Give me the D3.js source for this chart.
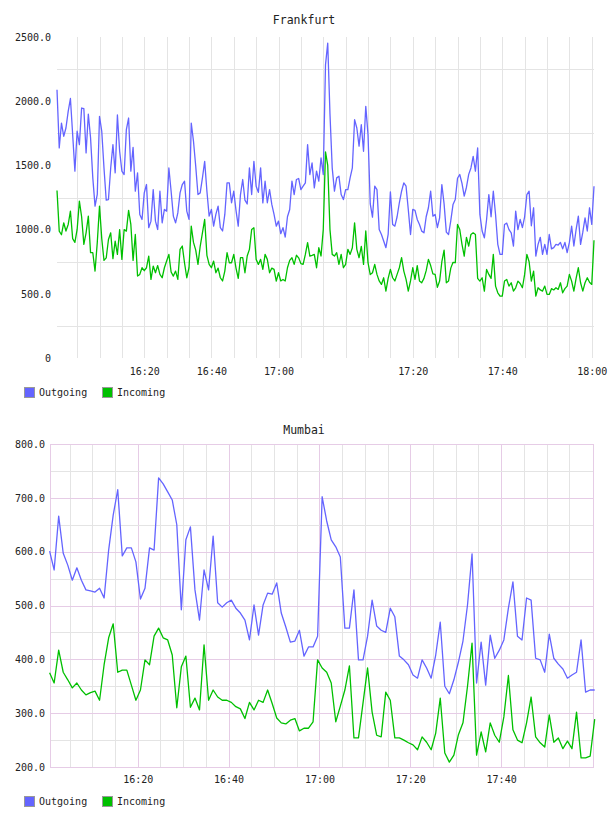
<!DOCTYPE html>
<html><head><meta charset="utf-8">
<script src="https://cdn.jsdelivr.net/npm/d3@7"></script>
<style>body{margin:0;background:#fff}svg{display:block}text{font-family:"DejaVu Sans Mono",monospace;fill:#222}</style>
</head><body>
<script>
// ---------- Frankfurt (sample-indexed x axis) ----------
const ffOutgoing = [
2089,1636,1830,1727,1791,1921,2021,1740,1455,1766,
1662,1947,1942,1597,1900,1714,1403,1183,1274,1882,
1766,1480,1229,1234,1480,1662,1442,1893,1610,1455,
1429,1779,1869,1455,1641,1299,1442,1118,1079,1286,
1351,1015,1066,1312,1066,1001,1299,1053,1157,1144,
1480,1299,1105,1053,1130,1286,1351,1377,1144,1079,
1830,1688,1493,1273,1286,1403,1532,1299,1105,1157,
1027,1118,1183,1015,989,1118,1364,1364,1209,1299,
1150,1027,1273,1390,1230,1199,1481,1273,1532,1338,
1290,1481,1208,1377,1209,1312,1196,1118,1027,1066,
968,1015,942,1100,1157,1377,1273,1390,1398,1312,
1338,1364,1662,1429,1519,1325,1455,1377,1558,1429,
2283,2452,1900,1481,1300,1403,1416,1273,1234,1312,
1312,1403,1481,1856,1791,1650,1817,1610,1960,1740,
1200,1097,1338,1312,1000,962,911,859,962,1294,
1040,1027,1100,1209,1299,1364,1338,1157,962,1157,
1150,1079,1040,988,975,1100,1170,1299,1105,1118,
1015,1092,1351,1200,980,962,1070,1196,1234,1400,
1429,1360,1260,1330,1430,1480,1571,1455,1636,1118,
989,936,1079,1273,1100,1299,1118,885,807,807,
1040,1050,1000,975,872,1144,1000,1079,1015,1100,
1273,1299,1030,1170,794,885,940,807,885,807,
962,850,860,885,880,900,850,900,820,900,
1027,872,1000,1105,885,980,1092,989,1170,1040,1338];
const ffIncoming = [
1304,988,960,1053,989,1040,1144,930,900,1001,
1222,1100,885,975,1105,820,820,677,900,1183,
930,760,780,923,975,774,910,807,1000,768,
1000,988,1150,1040,760,962,638,651,703,680,
703,794,612,716,664,720,651,625,703,755,
807,670,638,677,612,846,872,740,625,703,
1027,900,840,729,870,975,1079,800,729,703,
755,664,700,625,600,677,820,742,742,807,
700,620,781,781,664,794,846,1001,1014,768,
729,768,690,807,768,664,700,690,599,664,
600,612,600,703,760,781,729,800,780,735,
729,807,898,794,800,807,703,859,794,1000,
1605,1500,1000,807,794,820,729,807,703,729,
846,807,859,1053,846,781,870,729,989,742,
650,664,729,651,600,573,625,521,620,690,
625,600,651,703,781,677,612,521,600,703,
612,720,600,586,620,680,768,720,655,651,
550,599,750,840,586,600,700,745,742,1040,
1001,885,794,940,872,962,975,962,620,599,
625,521,690,651,620,807,560,508,482,482,
599,612,560,586,521,547,599,580,547,651,
807,750,599,677,482,547,530,521,560,495,
495,540,530,547,534,586,508,540,560,651,
599,521,620,703,586,521,586,625,590,573,917];
const ffTickSamples = [39,69,99,159,199,239];
const ffTickLabels = ["16:20","16:40","17:00","17:20","17:40","18:00"];
const ffGridEvery = 10, ffGridFirst = 9;
const ffYTicks = [0,500,1000,1500,2000,2500];
const ffYMinor = [250,750,1250,1750,2250];

// ---------- Mumbai (one sample per minute from 16:00:36) ----------
const mmOutgoing = [
601,566,666,597,575,547,570,547,529,527,
525,532,514,603,668,715,592,607,607,581,
512,532,607,603,737,726,711,696,650,492,
622,646,529,473,566,529,629,505,497,505,
510,495,486,473,436,501,445,501,523,521,
542,486,460,432,434,454,406,423,423,443,
702,657,622,609,590,458,458,529,399,399,
443,510,462,454,450,495,479,406,399,390,
371,365,399,384,365,408,469,350,336,362,
395,434,501,596,356,432,352,445,402,417,
436,495,544,443,436,514,510,402,399,376,
447,402,391,382,365,371,376,436,339,343,343];
const mmIncoming = [
375,356,417,376,362,347,356,343,334,338,
341,324,390,440,466,376,380,380,352,324,
343,399,390,443,458,440,436,408,310,386,
406,311,328,306,427,324,343,330,324,324,
320,312,308,290,320,306,324,320,343,318,
291,282,280,287,290,267,272,272,284,399,
384,376,356,284,313,343,388,254,254,319,
384,302,259,256,339,324,254,254,250,245,
241,232,256,246,232,263,328,226,209,222,
260,282,350,430,222,265,228,282,259,246,
293,370,269,250,245,282,330,256,245,237,
297,246,254,234,248,234,302,217,217,220,289];
const mmStart = "16:00:36";
const mmTickLabels = ["16:20","16:40","17:00","17:20","17:40"];
const mmYTicks = [200,300,400,500,600,700,800];
const mmYMinor = [250,350,450,550,650,750];

const seriesNames = ["Outgoing","Incoming"];
const seriesColors = ["#6464ff","#00c000"];

// ---------------------------------------------------
const svg = d3.select("body").append("svg").attr("width",608).attr("height",816);
const gridGrey = "#e4e4e4", gridPink = "#e6cce6";

function legend(y){
  const g = svg.append("g");
  const xs=[24,102];
  seriesNames.forEach((n,i)=>{
    g.append("rect").attr("x",xs[i]+0.5).attr("y",y+0.5).attr("width",10).attr("height",10)
      .attr("fill",seriesColors[i]).attr("stroke","#999");
    g.append("text").attr("x",xs[i]+15).attr("y",y+5.5).attr("dy","0.35em")
      .attr("font-size","10px").text(n);
  });
}

// ===== Frankfurt =====
{
  const x = d3.scaleLinear().domain([0,240]).range([57,594]);
  const y = d3.scaleLinear().domain([0,2500]).range([358,37]);
  const g = svg.append("g");
  const gridIdx = d3.range(ffGridFirst, ffOutgoing.length, ffGridEvery);
  g.selectAll(".vg").data(gridIdx).join("line")
    .attr("x1",d=>Math.round(x(d))+0.5).attr("x2",d=>Math.round(x(d))+0.5)
    .attr("y1",y(2500)).attr("y2",y(0)).attr("stroke",gridGrey);
  g.selectAll(".hg").data(ffYMinor).join("line")
    .attr("x1",57).attr("x2",594)
    .attr("y1",d=>Math.round(y(d))+0.5).attr("y2",d=>Math.round(y(d))+0.5).attr("stroke",gridGrey);
  const yAxis = d3.axisLeft(y).tickValues(ffYTicks).tickSize(0).tickPadding(0)
    .tickFormat(d=>d===0?"0":d.toFixed(1));
  const ya = g.append("g").attr("transform","translate(51,0)").call(yAxis);
  ya.select(".domain").remove();
  ya.selectAll("text").attr("font-size","10px").attr("font-family","DejaVu Sans Mono").attr("fill","#222");
  const xAxis = d3.axisBottom(x).tickValues(ffTickSamples).tickSize(0).tickPadding(0)
    .tickFormat((d,i)=>ffTickLabels[i]);
  const xa = g.append("g").attr("transform","translate(0,368)").call(xAxis);
  xa.select(".domain").remove();
  xa.selectAll("text").attr("font-size","10px").attr("font-family","DejaVu Sans Mono").attr("fill","#222");
  const line = d3.line().x((d,i)=>x(i)).y(d=>y(d));
  [ffOutgoing, ffIncoming].forEach((s,si)=>{
    g.append("path").datum(s).attr("d",line).attr("fill","none")
      .attr("stroke",seriesColors[si]).attr("stroke-width",1.3).attr("stroke-linejoin","round");
  });
  svg.append("text").attr("x",304).attr("y",20).attr("dy","0.35em").attr("text-anchor","middle")
    .attr("font-size","11.5px").text("Frankfurt");
  legend(387);
}

// ===== Mumbai =====
{
  const parse = d3.timeParse("%H:%M:%S");
  const t0 = parse(mmStart);
  const times = mmOutgoing.map((d,i)=>d3.timeMinute.offset(t0,i));
  const t1 = times[times.length-1];
  const x = d3.scaleTime().domain([t0,t1]).range([49.6,594.7]);
  const y = d3.scaleLinear().domain([200,800]).range([767,444]);
  const g = svg.append("g");
  const labelTimes = mmTickLabels.map(s=>d3.timeParse("%H:%M")(s));
  const gridTimes = d3.timeMinute.every(5).range(t0,t1).filter(t=>x(t)<590);
  g.selectAll(".vg").data(gridTimes).join("line")
    .attr("x1",d=>Math.round(x(d))+0.5).attr("x2",d=>Math.round(x(d))+0.5)
    .attr("y1",444).attr("y2",767)
    .attr("stroke",d=>d.getMinutes()%20===0?gridPink:gridGrey);
  g.selectAll(".hm").data(mmYMinor).join("line")
    .attr("x1",50).attr("x2",594)
    .attr("y1",d=>Math.round(y(d))+0.5).attr("y2",d=>Math.round(y(d))+0.5).attr("stroke",gridGrey);
  g.selectAll(".hM").data(mmYTicks).join("line")
    .attr("x1",50).attr("x2",594)
    .attr("y1",d=>Math.round(y(d))+0.5).attr("y2",d=>Math.round(y(d))+0.5).attr("stroke",gridPink);
  g.append("line").attr("x1",50.5).attr("x2",50.5).attr("y1",444).attr("y2",767).attr("stroke",gridPink);
  g.append("line").attr("x1",593.5).attr("x2",593.5).attr("y1",444).attr("y2",767).attr("stroke",gridPink);
  const yAxis = d3.axisLeft(y).tickValues(mmYTicks).tickSize(0).tickPadding(0)
    .tickFormat(d=>d.toFixed(1));
  const ya = g.append("g").attr("transform","translate(45,0)").call(yAxis);
  ya.select(".domain").remove();
  ya.selectAll("text").attr("font-size","10px").attr("font-family","DejaVu Sans Mono").attr("fill","#222");
  const xAxis = d3.axisBottom(x).tickValues(labelTimes).tickSize(0).tickPadding(0)
    .tickFormat(d3.timeFormat("%H:%M"));
  const xa = g.append("g").attr("transform","translate(0,776)").call(xAxis);
  xa.select(".domain").remove();
  xa.selectAll("text").attr("font-size","10px").attr("font-family","DejaVu Sans Mono").attr("fill","#222");
  const line = d3.line().x((d,i)=>x(times[i])).y(d=>y(d));
  [mmOutgoing, mmIncoming].forEach((s,si)=>{
    g.append("path").datum(s).attr("d",line).attr("fill","none")
      .attr("stroke",seriesColors[si]).attr("stroke-width",1.3).attr("stroke-linejoin","round");
  });
  svg.append("text").attr("x",304).attr("y",430).attr("dy","0.35em").attr("text-anchor","middle")
    .attr("font-size","11.5px").text("Mumbai");
  legend(796);
}
</script>
</body></html>
